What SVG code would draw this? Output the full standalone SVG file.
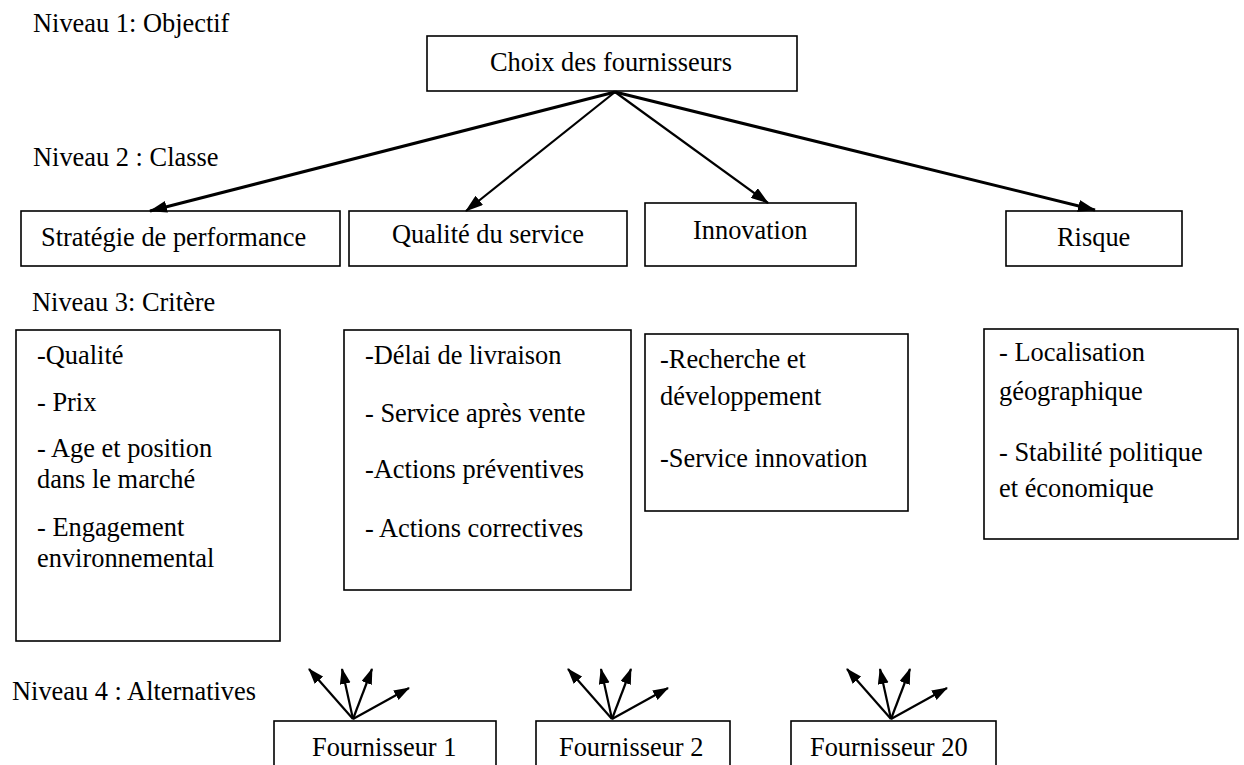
<svg xmlns="http://www.w3.org/2000/svg" width="1244" height="765" viewBox="0 0 1244 765">
<style>
text{font-family:"Liberation Serif","Times New Roman",serif;font-size:26.4px;fill:#000}
.box{fill:#fff;stroke:#000;stroke-width:1.6}
.arr{stroke:#000;fill:none;marker-end:url(#ah)}
.fan{stroke:#000;stroke-width:2.2;fill:none;marker-end:url(#ahs)}
</style>
<defs>
<marker id="ah" markerUnits="userSpaceOnUse" markerWidth="18" markerHeight="12" refX="17" refY="6" orient="auto">
<path d="M0,0 L18,6 L0,12 z" fill="#000"/>
</marker>
<marker id="ahs" markerUnits="userSpaceOnUse" markerWidth="16" markerHeight="12" refX="15" refY="5.5" orient="auto">
<path d="M0,0 L16,5.5 L0,11 z" fill="#000"/>
</marker>
</defs>
<rect width="1244" height="765" fill="#fff"/>
<g id="labels">
<text x="33" y="32">Niveau 1: Objectif</text>
<text x="33" y="166">Niveau 2 : Classe</text>
<text x="32" y="311">Niveau 3: Critère</text>
<text x="12" y="700">Niveau 4 : Alternatives</text>
</g>
<g id="objectif">
<rect class="box" x="427" y="36" width="370" height="55"/>
<text x="490" y="71">Choix des fournisseurs</text>
</g>
<g id="classe-strategie">
<rect class="box" x="21" y="211" width="319" height="55"/>
<text x="41" y="246">Stratégie de performance</text>
</g>
<g id="classe-qualite">
<rect class="box" x="349" y="211" width="278" height="55"/>
<text x="392" y="243">Qualité du service</text>
</g>
<g id="classe-innovation">
<rect class="box" x="645" y="203" width="211" height="63"/>
<text x="693" y="239">Innovation</text>
</g>
<g id="classe-risque">
<rect class="box" x="1006" y="211" width="176" height="55"/>
<text x="1057" y="246">Risque</text>
</g>
<g id="critere-strategie">
<rect class="box" x="16" y="330" width="264" height="311"/>
<text x="37" y="364">-Qualité</text>
<text x="37" y="411">- Prix</text>
<text x="37" y="457">- Age et position</text>
<text x="37" y="488">dans le marché</text>
<text x="37" y="536">- Engagement</text>
<text x="37" y="567">environnemental</text>
</g>
<g id="critere-qualite">
<rect class="box" x="344" y="330" width="287" height="260"/>
<text x="365" y="364">-Délai de livraison</text>
<text x="365" y="422">- Service après vente</text>
<text x="365" y="478">-Actions préventives</text>
<text x="365" y="537">- Actions correctives</text>
</g>
<g id="critere-innovation">
<rect class="box" x="645" y="334" width="263" height="177"/>
<text x="660" y="368">-Recherche et</text>
<text x="660" y="405">développement</text>
<text x="660" y="467">-Service innovation</text>
</g>
<g id="critere-risque">
<rect class="box" x="984" y="329" width="254" height="210"/>
<text x="999" y="361">- Localisation</text>
<text x="999" y="400">géographique</text>
<text x="999" y="461">- Stabilité politique</text>
<text x="999" y="497">et économique</text>
</g>
<g id="fournisseur-1">
<rect class="box" x="274" y="721" width="222" height="60"/>
<text x="312" y="756">Fournisseur 1</text>
</g>
<g id="fournisseur-2">
<rect class="box" x="536" y="721" width="194" height="60"/>
<text x="559" y="756">Fournisseur 2</text>
</g>
<g id="fournisseur-20">
<rect class="box" x="791" y="721" width="205" height="60"/>
<text x="810" y="756">Fournisseur 20</text>
</g>
<g id="connectors">
<line class="arr" stroke-width="3" x1="615" y1="92" x2="150" y2="211"/>
<line class="arr" stroke-width="2.2" x1="615" y1="92" x2="466" y2="211"/>
<line class="arr" stroke-width="2.2" x1="615" y1="92" x2="768" y2="203"/>
<line class="arr" stroke-width="3" x1="615" y1="92" x2="1095" y2="210"/>
<line class="fan" x1="353" y1="719" x2="309" y2="669"/>
<line class="fan" x1="353" y1="719" x2="342" y2="669"/>
<line class="fan" x1="353" y1="719" x2="372" y2="669"/>
<line class="fan" x1="353" y1="719" x2="409" y2="688"/>
<line class="fan" x1="612" y1="719" x2="568" y2="669"/>
<line class="fan" x1="612" y1="719" x2="601" y2="669"/>
<line class="fan" x1="612" y1="719" x2="631" y2="669"/>
<line class="fan" x1="612" y1="719" x2="668" y2="688"/>
<line class="fan" x1="891" y1="719" x2="847" y2="669"/>
<line class="fan" x1="891" y1="719" x2="880" y2="669"/>
<line class="fan" x1="891" y1="719" x2="910" y2="669"/>
<line class="fan" x1="891" y1="719" x2="947" y2="688"/>
</g>
</svg>
